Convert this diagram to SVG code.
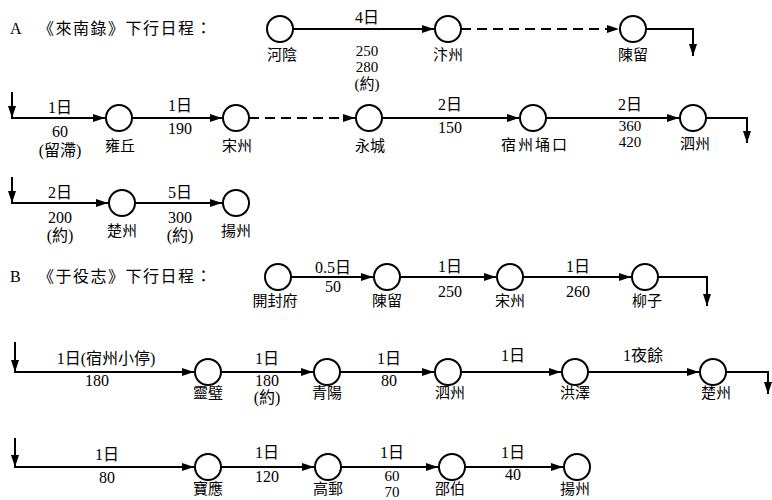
<svg xmlns="http://www.w3.org/2000/svg" width="772" height="500" viewBox="0 0 772 500">
<style>
.n circle{fill:#fff;stroke:#000;stroke-width:2}
.t{font-family:"Liberation Serif","Noto Sans CJK TC",serif;font-size:16px;text-anchor:middle;fill:#000}
.s{font-size:15px}
.c{font-family:"Noto Sans CJK TC",sans-serif;font-size:15px;text-anchor:middle;fill:#000}
.h{font-family:"Liberation Serif","Noto Sans CJK TC",serif;font-size:16px;fill:#000}
.e{stroke:#000;stroke-width:2;fill:none}
.d{stroke-dasharray:10 6}
</style>
<defs>
<marker id="ah" viewBox="0 0 12 8" refX="12" refY="4" markerWidth="12" markerHeight="8" orient="auto" markerUnits="userSpaceOnUse"><path d="M0,0 L12,4 L0,8 z" fill="#000"/></marker>
</defs>
<rect width="772" height="500" fill="#fff"/>
<g id="titles">
<text class="h" x="10" y="34">A</text>
<text class="h" x="38" y="34" letter-spacing="1.5">《來南錄》下行日程：</text>
<text class="h" x="10" y="282">B</text>
<text class="h" x="38" y="282" letter-spacing="1.5">《于役志》下行日程：</text>
</g>
<g id="connectors">
<line class="e" x1="293" y1="29" x2="434" y2="29" marker-end="url(#ah)"/>
<line class="e d" x1="461" y1="29" x2="619" y2="29" marker-end="url(#ah)"/>
<path class="e" d="M646 29 H693 V56" marker-end="url(#ah)"/>
<line class="e" x1="12" y1="92" x2="12" y2="118" marker-end="url(#ah)"/>
<line class="e" x1="11" y1="118" x2="105" y2="118" marker-end="url(#ah)"/>
<line class="e" x1="132" y1="118" x2="222" y2="118" marker-end="url(#ah)"/>
<line class="e d" x1="249" y1="118" x2="355" y2="118" marker-end="url(#ah)"/>
<line class="e" x1="382" y1="118" x2="519" y2="118" marker-end="url(#ah)"/>
<line class="e" x1="546" y1="118" x2="679" y2="118" marker-end="url(#ah)"/>
<path class="e" d="M706 118 H747 V143" marker-end="url(#ah)"/>
<line class="e" x1="12" y1="177" x2="12" y2="203" marker-end="url(#ah)"/>
<line class="e" x1="11" y1="203" x2="108" y2="203" marker-end="url(#ah)"/>
<line class="e" x1="135" y1="203" x2="222" y2="203" marker-end="url(#ah)"/>
<line class="e" x1="291" y1="277" x2="373" y2="277" marker-end="url(#ah)"/>
<line class="e" x1="400" y1="277" x2="496" y2="277" marker-end="url(#ah)"/>
<line class="e" x1="523" y1="277" x2="631" y2="277" marker-end="url(#ah)"/>
<path class="e" d="M658 277 H707 V306" marker-end="url(#ah)"/>
<line class="e" x1="15" y1="342" x2="15" y2="372" marker-end="url(#ah)"/>
<line class="e" x1="14" y1="372" x2="194" y2="372" marker-end="url(#ah)"/>
<line class="e" x1="221" y1="372" x2="313" y2="372" marker-end="url(#ah)"/>
<line class="e" x1="340" y1="372" x2="434" y2="372" marker-end="url(#ah)"/>
<line class="e" x1="461" y1="372" x2="561" y2="372" marker-end="url(#ah)"/>
<line class="e" x1="588" y1="372" x2="699" y2="372" marker-end="url(#ah)"/>
<path class="e" d="M726 372 H768 V394" marker-end="url(#ah)"/>
<line class="e" x1="15" y1="438" x2="15" y2="467" marker-end="url(#ah)"/>
<line class="e" x1="14" y1="467" x2="194" y2="467" marker-end="url(#ah)"/>
<line class="e" x1="221" y1="467" x2="314" y2="467" marker-end="url(#ah)"/>
<line class="e" x1="341" y1="467" x2="438" y2="467" marker-end="url(#ah)"/>
<line class="e" x1="465" y1="467" x2="563" y2="467" marker-end="url(#ah)"/>
<g id="edge-labels">
<text class="t" x="367" y="23">4日</text>
<text class="t s" x="367" y="56">250</text>
<text class="t s" x="367" y="72">280</text>
<text class="t s" x="367" y="89">(約)</text>
<text class="t" x="60" y="113">1日</text>
<text class="t" x="60" y="137">60</text>
<text class="t" x="60" y="156">(留滯)</text>
<text class="t" x="180" y="111">1日</text>
<text class="t" x="180" y="134">190</text>
<text class="t" x="450" y="110">2日</text>
<text class="t" x="450" y="133">150</text>
<text class="t" x="630" y="110">2日</text>
<text class="t s" x="630" y="131">360</text>
<text class="t s" x="630" y="147">420</text>
<text class="t" x="60" y="198">2日</text>
<text class="t" x="60" y="223">200</text>
<text class="t" x="60" y="241">(約)</text>
<text class="t" x="180" y="198">5日</text>
<text class="t" x="180" y="223">300</text>
<text class="t" x="180" y="241">(約)</text>
<text class="t" x="333" y="273">0.5日</text>
<text class="t" x="333" y="292">50</text>
<text class="t" x="450" y="272">1日</text>
<text class="t" x="450" y="297">250</text>
<text class="t" x="578" y="272">1日</text>
<text class="t" x="578" y="297">260</text>
<text class="t" x="106" y="364">1日(宿州小停)</text>
<text class="t" x="97" y="386">180</text>
<text class="t" x="267" y="364">1日</text>
<text class="t" x="267" y="386">180</text>
<text class="t" x="267" y="403">(約)</text>
<text class="t" x="389" y="364">1日</text>
<text class="t" x="389" y="386">80</text>
<text class="t" x="513" y="361">1日</text>
<text class="t" x="643" y="361">1夜餘</text>
<text class="t" x="107" y="460">1日</text>
<text class="t" x="107" y="483">80</text>
<text class="t" x="267" y="458">1日</text>
<text class="t" x="267" y="482">120</text>
<text class="t" x="392" y="458">1日</text>
<text class="t s" x="392" y="481">60</text>
<text class="t s" x="392" y="497">70</text>
<text class="t" x="513" y="458">1日</text>
<text class="t" x="513" y="480">40</text>
</g>
</g>
<g id="a-heyin" class="n"><circle cx="280" cy="29" r="13"/><text class="c" x="282" y="60">河陰</text></g>
<g id="a-bianzhou" class="n"><circle cx="448" cy="29" r="13"/><text class="c" x="448" y="60">汴州</text></g>
<g id="a-chenliu" class="n"><circle cx="633" cy="29" r="13"/><text class="c" x="633" y="60">陳留</text></g>
<g id="a-yongqiu" class="n"><circle cx="119" cy="118" r="13"/><text class="c" x="120" y="151">雍丘</text></g>
<g id="a-songzhou" class="n"><circle cx="236" cy="118" r="13"/><text class="c" x="237" y="151">宋州</text></g>
<g id="a-yongcheng" class="n"><circle cx="369" cy="118" r="13"/><text class="c" x="370" y="151">永城</text></g>
<g id="a-suzhou" class="n"><circle cx="533" cy="118" r="13"/><text class="c" x="535" y="150" letter-spacing="2">宿州埇口</text></g>
<g id="a-sizhou" class="n"><circle cx="693" cy="118" r="13"/><text class="c" x="695" y="149">泗州</text></g>
<g id="a-chuzhou" class="n"><circle cx="122" cy="203" r="13"/><text class="c" x="122" y="236">楚州</text></g>
<g id="a-yangzhou" class="n"><circle cx="236" cy="203" r="13"/><text class="c" x="236" y="236">揚州</text></g>
<g id="b-kaifeng" class="n"><circle cx="278" cy="277" r="13"/><text class="c" x="275" y="306">開封府</text></g>
<g id="b-chenliu" class="n"><circle cx="387" cy="277" r="13"/><text class="c" x="387" y="306">陳留</text></g>
<g id="b-songzhou" class="n"><circle cx="510" cy="277" r="13"/><text class="c" x="510" y="306">宋州</text></g>
<g id="b-liuzi" class="n"><circle cx="645" cy="277" r="13"/><text class="c" x="647" y="306">柳子</text></g>
<g id="b-lingbi" class="n"><circle cx="208" cy="372" r="13"/><text class="c" x="208" y="398">靈璧</text></g>
<g id="b-qingyang" class="n"><circle cx="327" cy="372" r="13"/><text class="c" x="327" y="398">青陽</text></g>
<g id="b-sizhou" class="n"><circle cx="448" cy="372" r="13"/><text class="c" x="450" y="398">泗州</text></g>
<g id="b-hongze" class="n"><circle cx="575" cy="372" r="13"/><text class="c" x="575" y="398">洪澤</text></g>
<g id="b-chuzhou" class="n"><circle cx="713" cy="372" r="13"/><text class="c" x="716" y="398">楚州</text></g>
<g id="b-baoying" class="n"><circle cx="208" cy="467" r="13"/><text class="c" x="208" y="494">寶應</text></g>
<g id="b-gaoyou" class="n"><circle cx="328" cy="467" r="13"/><text class="c" x="328" y="494">高郵</text></g>
<g id="b-shaobo" class="n"><circle cx="452" cy="467" r="13"/><text class="c" x="450" y="494">邵伯</text></g>
<g id="b-yangzhou" class="n"><circle cx="577" cy="467" r="13"/><text class="c" x="575" y="494">揚州</text></g>
</svg>
